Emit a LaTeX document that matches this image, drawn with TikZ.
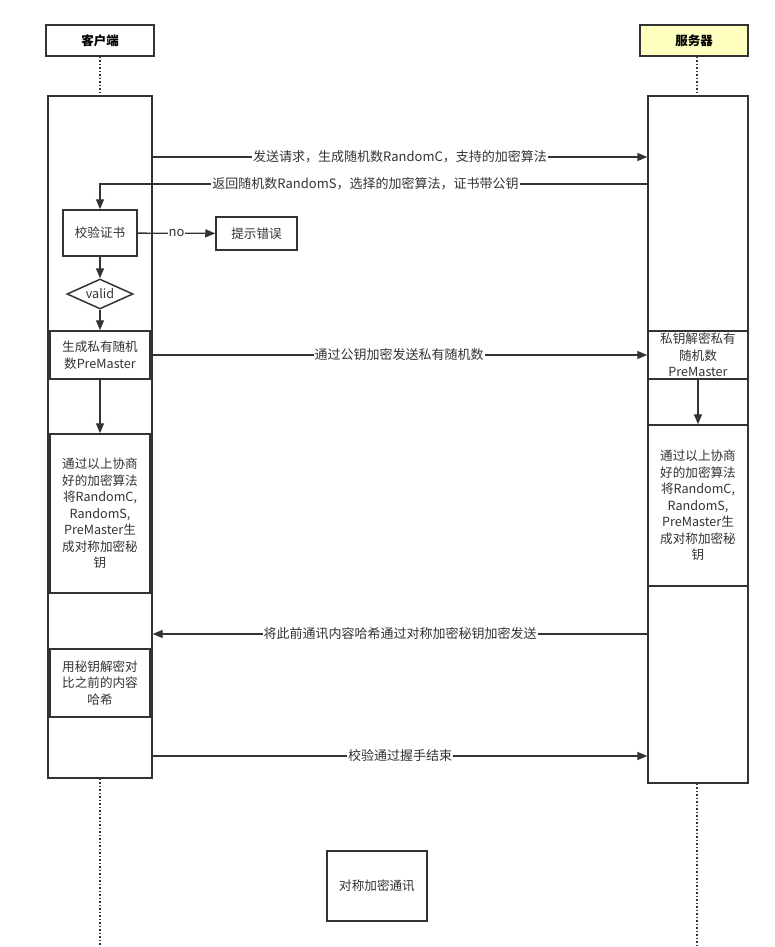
\documentclass[tikz,border=0pt]{standalone}
\usepackage{fontspec}
\setmainfont{Noto Sans CJK SC}
\usetikzlibrary{arrows.meta,shapes.geometric}
\definecolor{linegray}{HTML}{333333}
\definecolor{headyellow}{HTML}{FFFFC0}
\tikzset{
	head/.style={draw=linegray,line width=1.5pt,minimum width=108pt,minimum height=31pt,inner sep=0pt,font=\bfseries\fontsize{12.5}{14}\selectfont},
	life/.style 2 args={draw=linegray,line width=1.3pt,fill=white,minimum width=#1,minimum height=#2,inner sep=0pt},
	proc/.style 2 args={draw=linegray,line width=1.5pt,fill=white,minimum width=#1,minimum height=#2,inner sep=0pt,align=center,text=linegray,font=\fontsize{12.6}{16.5}\selectfont},
	msg/.style={draw=linegray,line width=1.3pt,-{Triangle[length=10pt,width=8pt]}},
	lbl/.style={fill=white,inner sep=1pt,text=linegray,font=\fontsize{13}{15}\selectfont}
}
\begin{document}
\begin{tikzpicture}[x=1pt,y=-1pt]
	\useasboundingbox (0,0) rectangle (774,947);
	% headers
	\node [head] (chead) at (100,40.5) {客户端};
	\node [head,fill=headyellow] (shead) at (694,40.5) {服务器};
	% lifelines
	\node [life={104pt}{682pt}] (clife) at (100,437) {};
	\node [life={100pt}{687pt}] (slife) at (698,439.5) {};
	\coordinate (cend) at (100,947);
	\coordinate (send) at (697,947);
	\draw [linegray,line width=1.5pt,dotted] (chead.south) -- (clife.north);
	\draw [linegray,line width=1.5pt,dotted] (shead.south -| 697,0) -- (clife.north -| 697,0);
	\draw [linegray,line width=1.5pt,dotted] (clife.south) -- (cend);
	\draw [linegray,line width=1.5pt,dotted] (slife.south -| 697,0) -- (send);

	% client side
	\node [proc={74pt}{46pt}] (check) at (100,233) {校验证书};
	\node [proc={81pt}{33pt}] (err) at (256.5,233.5) {提示错误};
	\node [draw=linegray,line width=1.5pt,diamond,aspect=2.2,inner sep=0pt,minimum width=66pt,minimum height=30pt,text=linegray,font=\fontsize{12.6}{14}\selectfont] (valid) at (100,294) {valid};
	\node [proc={100pt}{48pt}] (gen) at (100,355) {生成私有随机\\数PreMaster};
	\node [proc={100pt}{159pt}] (keyL) at (100,513.5) {通过以上协商\\好的加密算法\\将RandomC,\\RandomS,\\PreMaster生\\成对称加密秘\\钥};
	\node [proc={100pt}{68pt}] (cmp) at (100,683) {用秘钥解密对\\比之前的内容\\哈希};

	% server side
	\node [proc={100pt}{48pt}] (dec) at (698,355) {私钥解密私有\\随机数\\PreMaster};
	\node [proc={100pt}{161pt}] (keyR) at (698,505.5) {通过以上协商\\好的加密算法\\将RandomC,\\RandomS,\\PreMaster生\\成对称加密秘\\钥};

	\node [proc={100pt}{70pt}] (sym) at (377,886) {对称加密通讯};

	% messages
	\draw [msg] (clife.east |- 0,157) -- node [lbl] {发送请求，生成随机数RandomC，支持的加密算法} (slife.west |- 0,157);
	\draw [msg] (slife.west |- 0,184) -- node [lbl,pos=0.515] {返回随机数RandomS，选择的加密算法，证书带公钥} (check.north |- 0,184) -- (check.north);
	\draw [msg] (check) -- node [lbl] {no} (err);
	\draw [msg] (check) -- (valid);
	\draw [msg] (valid) -- (gen);
	\draw [msg] (gen) -- node [lbl] {通过公钥加密发送私有随机数} (dec);
	\draw [msg] (gen) -- (keyL);
	\draw [msg] (dec) -- (keyR);
	\draw [msg] (slife.west |- 0,634) -- node [lbl] {将此前通讯内容哈希通过对称加密秘钥加密发送} (clife.east |- 0,634);
	\draw [msg] (clife.east |- 0,756) -- node [lbl] {校验通过握手结束} (slife.west |- 0,756);
\end{tikzpicture}
\end{document}
